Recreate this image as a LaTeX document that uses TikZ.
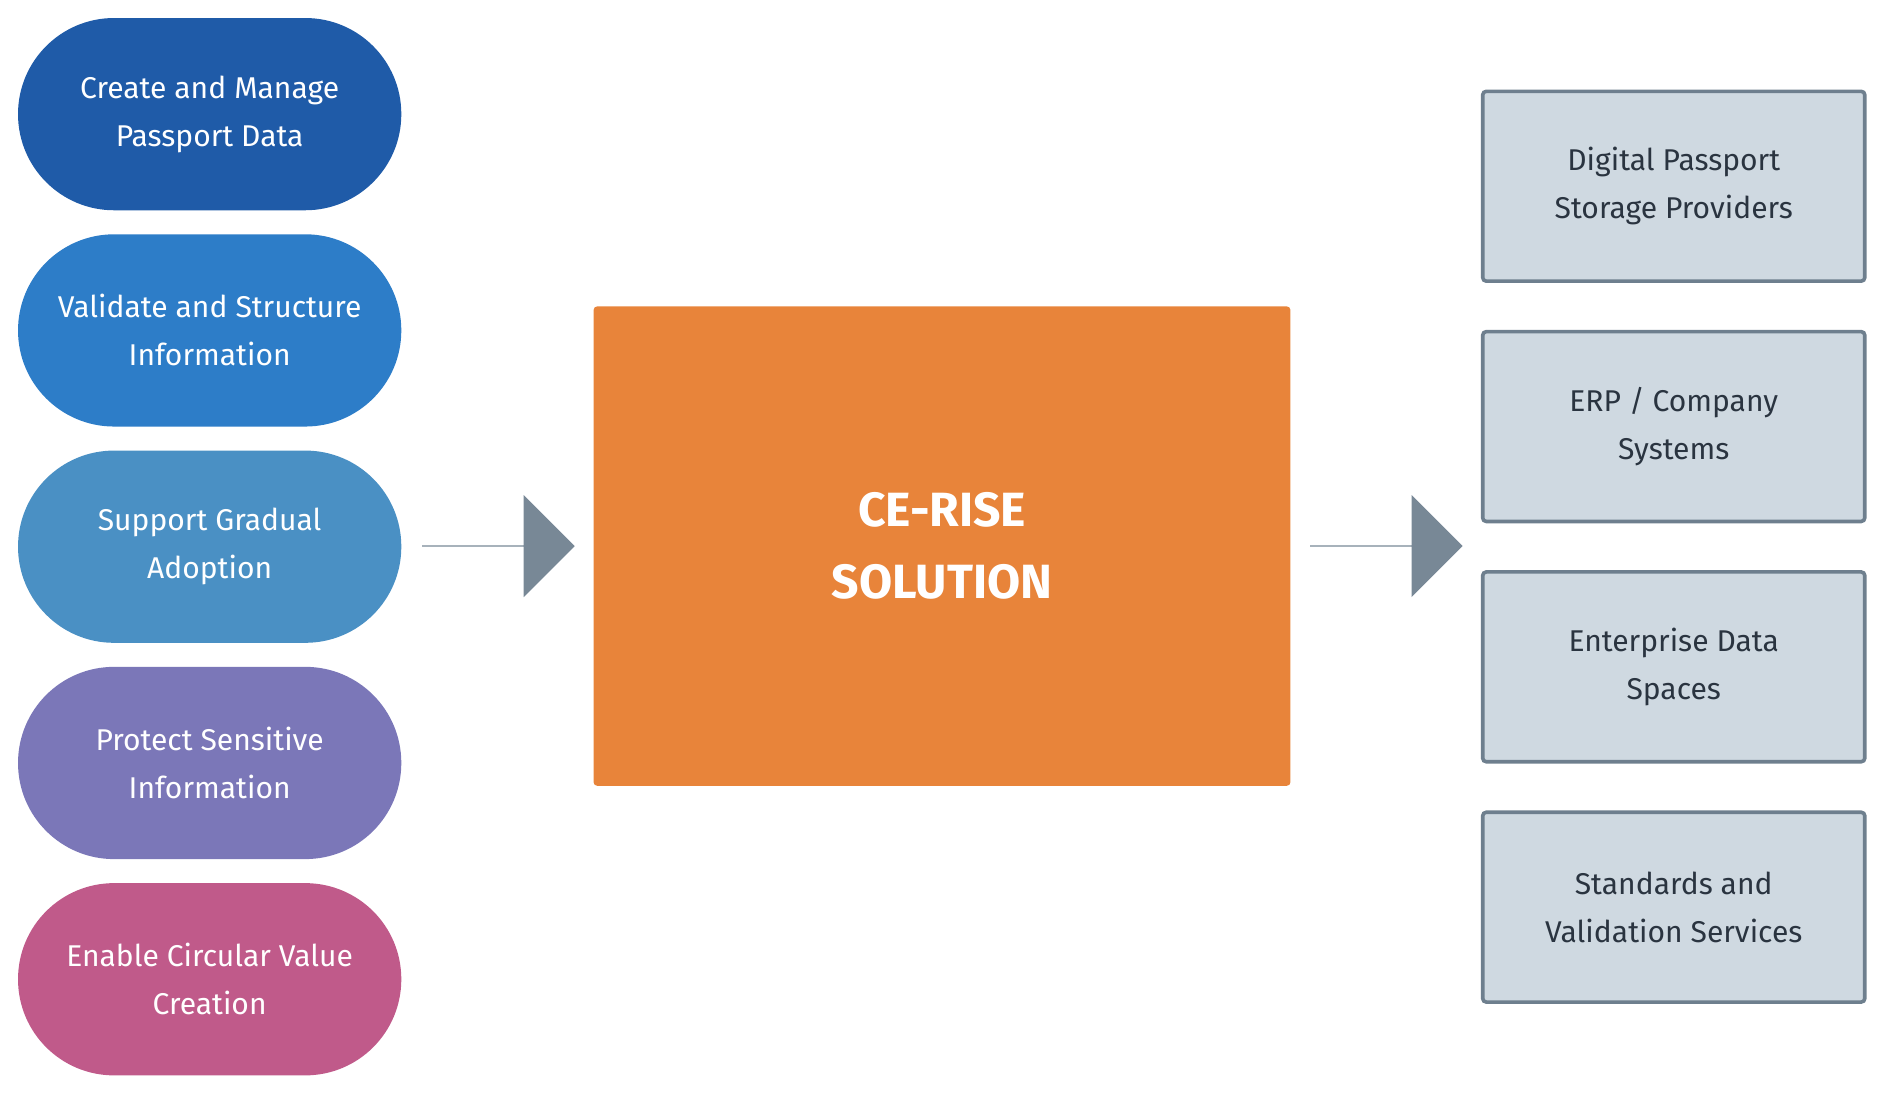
\documentclass[tikz,border=0pt]{standalone}
\usepackage{fontspec}
\setmainfont{Fira Sans}
\usetikzlibrary{shapes.arrows}
\definecolor{c1}{HTML}{1F5BA8}
\definecolor{c2}{HTML}{2D7DC8}
\definecolor{c3}{HTML}{4A90C4}
\definecolor{c4}{HTML}{7B77B8}
\definecolor{c5}{HTML}{C05A8A}
\definecolor{orng}{HTML}{E8843A}
\definecolor{boxf}{HTML}{CFD9E1}
\definecolor{boxd}{HTML}{6E7F8E}
\definecolor{arr}{HTML}{788896}
\definecolor{txt}{HTML}{2A3440}
\begin{document}
\begin{tikzpicture}[x=1pt,y=-1pt,
 pill/.style={minimum width=319pt, minimum height=160pt, text=white, align=center, font=\fontsize{25}{40}\selectfont, rounded corners=79.9pt, inner sep=0pt},
 sbox/.style={draw=boxd, line width=3pt, fill=boxf, rounded corners=3pt, minimum width=318pt, minimum height=158pt, text=txt, align=center, font=\fontsize{25}{40}\selectfont},
 blk/.style={single arrow, fill=arr, minimum height=127pt, minimum width=85pt, single arrow head extend=15.5pt, single arrow tip angle=90, inner sep=0pt, shape border rotate=0}]
\useasboundingbox (0,0) rectangle (1568,909);
\node[pill,fill=c1] (p1) at (174.5,95) {Create and Manage\\Passport Data};
\node[pill,fill=c2] (p2) at (174.5,275) {Validate and Structure\\Information};
\node[pill,fill=c3] (p3) at (174.5,455) {Support Gradual\\Adoption};
\node[pill,fill=c4] (p4) at (174.5,635) {Protect Sensitive\\Information};
\node[pill,fill=c5] (p5) at (174.5,815) {Enable Circular Value\\Creation};
\node[fill=orng, rounded corners=3pt, minimum width=580pt, minimum height=399pt, text=white, align=center, font=\fontsize{40}{60}\selectfont\bfseries] (ce) at (784,454.5) {CE-RISE\\SOLUTION};
\node[blk] (a1) at (414.5,454.5) {};
\node[blk] (a2) at (1153.5,454.5) {};
\node[sbox] (s1) at (1393,155) {Digital Passport\\Storage Providers};
\node[sbox] (s2) at (1393,355) {ERP / Company\\Systems};
\node[sbox] (s3) at (1393,555) {Enterprise Data\\Spaces};
\node[sbox] (s4) at (1393,755) {Standards and\\Validation Services};
\end{tikzpicture}
\end{document}
